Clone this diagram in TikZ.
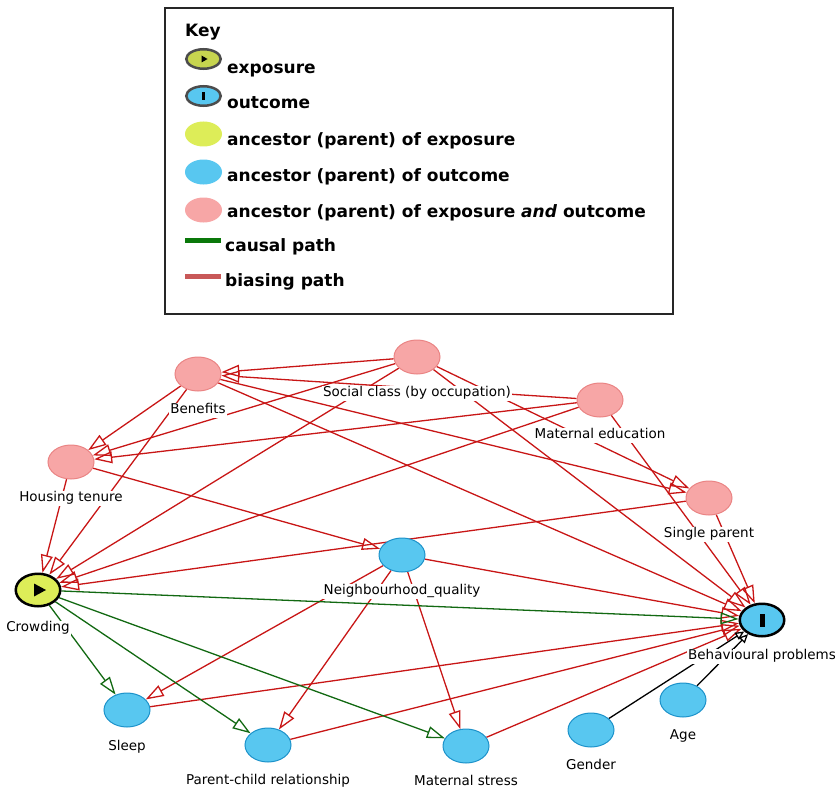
\documentclass[tikz,border=0pt]{standalone}
\usepackage{fontspec}
\setmainfont{DejaVu Sans}
\usetikzlibrary{calc}
\usetikzlibrary{positioning}
\usetikzlibrary{shapes.geometric}
\usetikzlibrary{arrows.meta}
\usetikzlibrary{backgrounds}
\definecolor{pinkfill}{RGB}{247,166,166}
\definecolor{pinkline}{RGB}{234,132,132}
\definecolor{bluefill}{RGB}{88,199,240}
\definecolor{blueline}{RGB}{28,146,202}
\definecolor{yellowfill}{RGB}{221,237,88}
\definecolor{biasred}{RGB}{200,22,22}
\definecolor{causalgreen}{RGB}{18,105,18}
\definecolor{keybias}{RGB}{200,88,88}
\definecolor{keycausal}{RGB}{10,120,10}
\tikzstyle{dagnode} = [ellipse, minimum width=46pt, minimum height=34pt, inner sep=0]
\tikzstyle{pinknode} = [dagnode, draw=pinkline, fill=pinkfill, line width=1pt]
\tikzstyle{bluenode} = [dagnode, draw=blueline, fill=bluefill, line width=1pt]
\tikzstyle{expnode} = [dagnode, draw=black, fill=yellowfill, line width=2.5pt, minimum width=44.5pt, minimum height=32.5pt]
\tikzstyle{outnode} = [dagnode, draw=black, fill=bluefill, line width=2.5pt, minimum width=44.5pt, minimum height=32.5pt]
\tikzstyle{lbl} = [fill=white, inner sep=1pt, text height=10pt, text depth=3pt, font=\fontsize{13.5}{15}\selectfont]
\tikzstyle{biasarrow} = [draw=biasred, line width=1.3pt, -{Triangle[open, length=18pt, width=12pt]}]
\tikzstyle{causalarrow} = [draw=causalgreen, line width=1.3pt, -{Triangle[open, length=18pt, width=12pt]}]
\tikzstyle{plainarrow} = [draw=black, line width=1.3pt, -{Triangle[open, length=9pt, width=8pt]}]
\tikzstyle{keytext} = [anchor=base west, inner sep=0, font=\fontsize{17}{20}\selectfont\bfseries]
\tikzstyle{keyicon} = [ellipse, minimum width=37pt, minimum height=25pt, inner sep=0]

\begin{document}
\begin{tikzpicture}[x=1pt, y=-1pt]
    \useasboundingbox (0,0) rectangle (835,789);

    \node[draw=black!85, line width=2pt, minimum width=508pt, minimum height=306pt, inner sep=0, anchor=north west] (key_box) at (163.75,6.75) {};
    \node[keytext] (key_title) at (185,37) {Key};
    \node[keyicon, draw=black!70, fill=yellowfill!90!black, line width=2.5pt, minimum width=34.5pt, minimum height=19.5pt] (key_exp) at (203.5,59) {};
    \fill ($(key_exp)+(-2,-3.5)$) -- ($(key_exp)+(4,0)$) -- ($(key_exp)+(-2,3.5)$) -- cycle;
    \node[keyicon, draw=black!70, fill=bluefill, line width=2.5pt, minimum width=34.5pt, minimum height=19.5pt] (key_out) at (203.5,96) {};
    \fill ($(key_out)+(-1.5,-4)$) rectangle ($(key_out)+(1.5,4)$);
    \node[keyicon, fill=yellowfill] (key_ancexp) at (203.5,134) {};
    \node[keyicon, fill=bluefill] (key_ancout) at (203.5,172) {};
    \node[keyicon, fill=pinkfill] (key_both) at (203.5,210) {};
    \draw[keycausal, line width=5pt] (185,240) -- (221,240);
    \draw[keybias, line width=5pt] (185,276) -- (221,276);
    \node[keytext] (key_exp_txt) at (227,74) {exposure};
    \node[keytext] (key_out_txt) at (227,109) {outcome};
    \node[keytext] (key_ancexp_txt) at (227,146) {ancestor (parent) of exposure};
    \node[keytext] (key_ancout_txt) at (227,181) {ancestor (parent) of outcome};
    \node[keytext] (key_both_txt) at (227,217) {ancestor (parent) of exposure \textit{and} outcome};
    \node[keytext] (key_causal_txt) at (225,251) {causal path};
    \node[keytext] (key_bias_txt) at (225,286) {biasing path};

    \node[pinknode] (dag_benefits) at (198,374) {};
    \node[pinknode] (dag_social) at (417,357) {};
    \node[pinknode] (dag_mated) at (600,400) {};
    \node[pinknode] (dag_housing) at (71,462) {};
    \node[pinknode] (dag_single) at (709,498) {};
    \node[bluenode] (dag_nq) at (402,555) {};
    \node[expnode] (dag_crowding) at (38,590) {};
    \node[outnode] (dag_bp) at (762,620) {};
    \node[bluenode] (dag_sleep) at (127,710) {};
    \node[bluenode] (dag_pcr) at (268,745) {};
    \node[bluenode] (dag_mstress) at (466,746) {};
    \node[bluenode] (dag_gender) at (591,730) {};
    \node[bluenode] (dag_age) at (683,700) {};
    \fill ($(dag_crowding)+(-4,-6.5)$) -- ($(dag_crowding)+(8,0)$) -- ($(dag_crowding)+(-4,6.5)$) -- cycle;
    \fill ($(dag_bp)+(-2.5,-6.5)$) rectangle ($(dag_bp)+(2.5,6.5)$);

    \node[lbl, below=11pt of dag_benefits] (lbl_benefits) {Benefits};
    \node[lbl, below=11pt of dag_social] (lbl_social) {Social class (by occupation)};
    \node[lbl, below=10pt of dag_mated] (lbl_mated) {Maternal education};
    \node[lbl, below=11pt of dag_housing] (lbl_housing) {Housing tenure};
    \node[lbl, below=11pt of dag_single] (lbl_single) {Single parent};
    \node[lbl, below=11pt of dag_nq] (lbl_nq) {Neighbourhood\_quality};
    \node[lbl, below=13pt of dag_crowding] (lbl_crowding) {Crowding};
    \node[lbl, below=11pt of dag_bp] (lbl_bp) {Behavioural problems};
    \node[lbl, below=12pt of dag_sleep] (lbl_sleep) {Sleep};
    \node[lbl, below=11pt of dag_pcr] (lbl_pcr) {Parent-child relationship};
    \node[lbl, below=11pt of dag_mstress] (lbl_mstress) {Maternal stress};
    \node[lbl, below=11pt of dag_gender] (lbl_gender) {Gender};
    \node[lbl, below=11pt of dag_age] (lbl_age) {Age};

    \begin{scope}[on background layer]
        \draw[biasarrow] (dag_social) -- (dag_benefits);
        \draw[biasarrow] (dag_mated) -- (dag_benefits);
        \draw[biasarrow] (dag_benefits) -- (dag_housing);
        \draw[biasarrow] (dag_social) -- (dag_housing);
        \draw[biasarrow] (dag_mated) -- (dag_housing);
        \draw[biasarrow] (dag_housing) -- (dag_crowding);
        \draw[biasarrow] (dag_benefits) -- (dag_crowding);
        \draw[biasarrow] (dag_social) -- (dag_crowding);
        \draw[biasarrow] (dag_mated) -- (dag_crowding);
        \draw[biasarrow] (dag_single) -- (dag_crowding);
        \draw[biasarrow] (dag_housing) -- (dag_nq);
        \draw[biasarrow] (dag_benefits) -- (dag_single);
        \draw[biasarrow] (dag_social) -- (dag_single);
        \draw[biasarrow] (dag_benefits) -- (dag_bp);
        \draw[biasarrow] (dag_social) -- (dag_bp);
        \draw[biasarrow] (dag_mated) -- (dag_bp);
        \draw[biasarrow] (dag_single) -- (dag_bp);
        \draw[biasarrow] (dag_nq) -- (dag_bp);
        \draw[biasarrow] (dag_nq) -- (dag_sleep);
        \draw[biasarrow] (dag_nq) -- (dag_pcr);
        \draw[biasarrow] (dag_nq) -- (dag_mstress);
        \draw[biasarrow] (dag_sleep) -- (dag_bp);
        \draw[biasarrow] (dag_pcr) -- (dag_bp);
        \draw[biasarrow] (dag_mstress) -- (dag_bp);
        \draw[causalarrow] (dag_crowding) -- (dag_bp);
        \draw[causalarrow] (dag_crowding) -- (dag_sleep);
        \draw[causalarrow] (dag_crowding) -- (dag_pcr);
        \draw[causalarrow] (dag_crowding) -- (dag_mstress);
        \draw[plainarrow] (dag_gender) -- (dag_bp);
        \draw[plainarrow] (dag_age) -- (dag_bp);
    \end{scope}
\end{tikzpicture}
\end{document}
